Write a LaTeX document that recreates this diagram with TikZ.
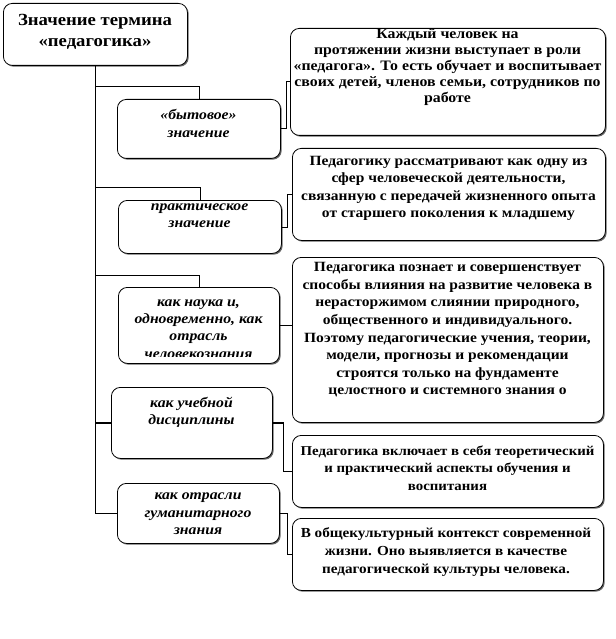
\documentclass[tikz,border=0pt]{standalone}
\usepackage{fontspec}
\setmainfont[FakeStretch=1.1]{Liberation Serif}
\usetikzlibrary{shadows}

\begin{document}
\begin{tikzpicture}[x=1pt, y=-1pt,
  box/.style={draw, line width=0.8pt, rounded corners=9pt, fill=white, anchor=north west, inner sep=0pt, drop shadow={shadow xshift=1.3pt, shadow yshift=-1.3pt, fill=black, opacity=0.6}},
  txt/.style={align=center, inner sep=0pt},
  ttl/.style={txt, font=\fontsize{17}{21.7}\selectfont\bfseries},
  ltxt/.style={txt, font=\fontsize{14.3}{17.3}\selectfont\bfseries\itshape},
  rtxt/.style={txt, font=\fontsize{14.1}{17.6}\selectfont\bfseries},
  conn/.style={line width=0.8pt}]
\useasboundingbox (0,0) rectangle (615,639);

% left column
\node[box, minimum width=184pt, minimum height=62pt] (title) at (3,3) {};
\node[box, minimum width=163pt, minimum height=59pt] (b1) at (117,99) {};
\node[box, minimum width=163pt, minimum height=53pt] (b2) at (118,200) {};
\node[box, minimum width=161pt, minimum height=76pt] (b3) at (118,287) {};
\node[box, minimum width=161pt, minimum height=71pt] (b4) at (111,387) {};
\node[box, minimum width=162pt, minimum height=60pt] (b5) at (117,483) {};

% right column
\node[box, minimum width=315pt, minimum height=107pt] (r1) at (290,28) {};
\node[box, minimum width=313pt, minimum height=92pt] (r2) at (292,148) {};
\node[box, minimum width=311pt, minimum height=165pt] (r3) at (292,257) {};
\node[box, minimum width=311pt, minimum height=72pt] (r4) at (292,435) {};
\node[box, minimum width=311pt, minimum height=72pt] (r5) at (292,518) {};

% texts
\node[ttl] (titlet) at (95,32) {Значение термина\\«педагогика»};
\node[ltxt] (b1t) at (198.5,123.5) {«бытовое»\\значение};
\node[ltxt] (b2t) at (199.5,215.5) {практическое\\значение};
\begin{scope}
\clip (118,287) rectangle (279,356);
\node[ltxt] (b3t) at (198.5,329) {как наука и,\\одновременно, как\\отрасль\\человекознания};
\end{scope}
\node[ltxt] (b4t) at (191.5,412) {как учебной\\дисциплины};
\node[ltxt] (b5t) at (198,514) {как отрасли\\гуманитарного\\знания};

\node[rtxt, font=\fontsize{14.4}{15.8}\selectfont\bfseries] (r1t) at (447.5,67) {Каждый человек на\\протяжении жизни выступает в роли\\«педагога».  То есть обучает и воспитывает\\своих детей, членов семьи, сотрудников по\\работе};
\node[rtxt] (r2t) at (448.5,188.5) {Педагогику рассматривают как одну из\\сфер человеческой деятельности,\\связанную с передачей жизненного опыта\\от старшего поколения к младшему};
\node[rtxt] (r3t) at (447.5,330) {Педагогика познает и совершенствует\\способы влияния на развитие человека в\\нерасторжимом слиянии природного,\\общественного и индивидуального.\\Поэтому педагогические учения, теории,\\модели, прогнозы и рекомендации\\строятся только на фундаменте\\целостного и системного знания о};
\node[rtxt, font=\fontsize{13.5}{17.6}\selectfont\bfseries] (r4t) at (447.5,468) {Педагогика включает в себя теоретический\\и практический аспекты обучения и\\воспитания};
\node[rtxt, font=\fontsize{13.8}{17.6}\selectfont\bfseries] (r5t) at (446,552) {В общекультурный контекст современной\\жизни. Оно выявляется в качестве\\педагогической культуры человека.};

% trunk and branches
\coordinate (j1) at (95,86);
\coordinate (j2) at (95,187);
\coordinate (j3) at (95,275);
\draw[conn] (title.south) |- (b5.west);
\draw[conn] (j1) -| (b1.north);
\draw[conn] (j2) -| (b2.north);
\draw[conn] (j3) -| (b3.north);
\draw[conn, line width=1.2pt] (b4.west -| title.south) -- (b4.west);

% links to the right
\draw[conn] (b1.east) -- ++(6,0) |- (r1.west);
\draw[conn] (b2.east) -- ++(6,0) |- (r2.west);
\draw[conn] (b3.east) -- (b3.east -| r3.west);
\draw[conn, line width=1.2pt] (b4.east) -- ++(11,0) |- (r4.west);
\draw[conn] (b5.east) -- ++(8,0) |- (r5.west);
\end{tikzpicture}
\end{document}
